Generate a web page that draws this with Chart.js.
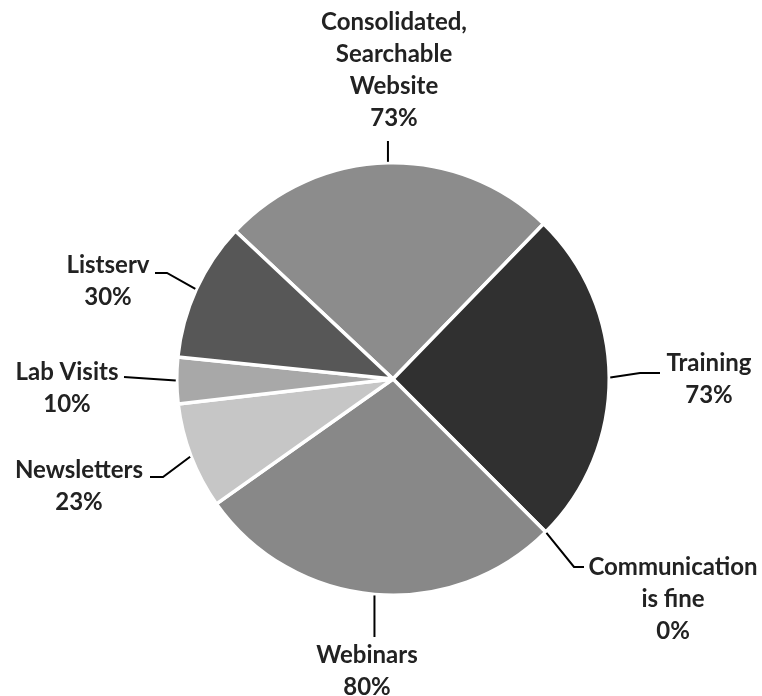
<!DOCTYPE html>
<html>
<head>
<meta charset="utf-8">
<script src="https://cdn.jsdelivr.net/npm/chart.js@4/dist/chart.umd.min.js"></script>
<style>
html,body{margin:0;padding:0;background:#fff;}
#wrap{width:762px;height:696px;position:relative;}
</style>
</head>
<body>
<div id="wrap"><canvas id="c" width="762" height="696"></canvas></div>
<script>
// ---- data ----
const categories = ["Consolidated, Searchable Website", "Training", "Communication is fine", "Webinars", "Newsletters", "Lab Visits", "Listserv"];
const labelLines = [["Consolidated,", "Searchable", "Website"], ["Training"], ["Communication", "is fine"], ["Webinars"], ["Newsletters"], ["Lab Visits"], ["Listserv"]];
const percentValues = [73, 73, 0, 80, 23, 10, 30];
const percentLabels = ["73%", "73%", "0%", "80%", "23%", "10%", "30%"];

// ---- styling ----
const sliceColors = ["#8c8c8c", "#303030", "#8c8c8c", "#888888", "#c6c6c6", "#a8a8a8", "#575757"];
// label layout: text centre, optional elbow, leader end
const labelLayout = [
  {tx: 394, ty: 22, elbow: null, end: "up", endY: 141},
  {tx: 709, ty: 363, elbow: [640, 373], end: [660, 373]},
  {tx: 673, ty: 567, elbow: [574, 567], end: [584, 567]},
  {tx: 367, ty: 655, elbow: null, end: "down", endY: 637},
  {tx: 79, ty: 470, elbow: [163, 477], end: [150, 477]},
  {tx: 67, ty: 372, elbow: null, end: [124, 377]},
  {tx: 108, ty: 265, elbow: [167, 273], end: [155, 273]}
];

const labelPlugin = {
  id: 'leaderLabels',
  afterDraw(chart) {
    const ctx = chart.ctx;
    const meta = chart.getDatasetMeta(0);
    ctx.save();
    ctx.font = "bold 24px Lato";
    ctx.fillStyle = "#222222";
    ctx.textAlign = "center";
    ctx.textBaseline = "middle";
    ctx.strokeStyle = "#000";
    ctx.lineWidth = 2;
    const lh = 32;
    meta.data.forEach((arc, i) => {
      const p = arc.getProps(['x', 'y', 'startAngle', 'endAngle', 'outerRadius'], true);
      const mid = (p.startAngle + p.endAngle) / 2;
      const r = p.outerRadius + 1;
      const sx = p.x + Math.cos(mid) * r;
      const sy = p.y + Math.sin(mid) * r;
      const L = labelLayout[i];
      ctx.beginPath();
      ctx.moveTo(sx, sy);
      if (L.end === "up" || L.end === "down") {
        ctx.lineTo(sx, L.endY);
      } else {
        if (L.elbow) ctx.lineTo(L.elbow[0], L.elbow[1]);
        ctx.lineTo(L.end[0], L.end[1]);
      }
      ctx.stroke();
      const lines = labelLines[i].concat([percentLabels[i]]);
      lines.forEach((t, k) => ctx.fillText(t, L.tx, L.ty + k * lh));
    });
    ctx.restore();
  }
};

new Chart(document.getElementById('c'), {
  type: 'pie',
  data: {
    labels: categories,
    datasets: [{
      data: percentValues,
      backgroundColor: sliceColors,
      borderColor: '#ffffff',
      borderWidth: 3.5
    }]
  },
  options: {
    responsive: false,
    animation: false,
    rotation: -46.8,
    layout: {padding: {left: 175, right: 151, top: 161, bottom: 99}},
    plugins: {legend: {display: false}, tooltip: {enabled: false}}
  },
  plugins: [labelPlugin]
});
</script>
</body>
</html>
